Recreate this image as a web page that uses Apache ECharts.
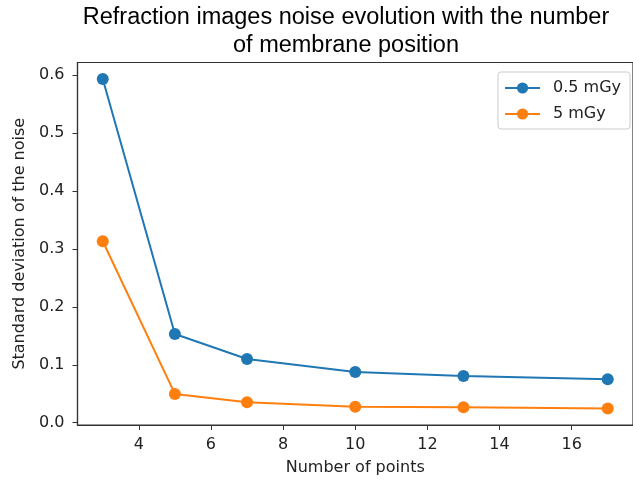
<!DOCTYPE html>
<html>
<head>
<meta charset="utf-8">
<script src="https://cdn.jsdelivr.net/npm/echarts@6/dist/echarts.min.js"></script>
<style>html,body{margin:0;padding:0;background:#fff}#c{width:633px;height:481px}</style>
</head>
<body>
<div id="c"></div>
<script>
const numPoints = [3, 5, 7, 10, 13, 17];
const noise05mGy = [0.593, 0.153, 0.110, 0.0875, 0.0806, 0.075];
const noise5mGy = [0.313, 0.0497, 0.0355, 0.0274, 0.0269, 0.0245];
const xTicks = [4, 6, 8, 10, 12, 14, 16];
const yTicks = [0.0, 0.1, 0.2, 0.3, 0.4, 0.5, 0.6];
const seriesNames = ['0.5 mGy', '5 mGy'];
const titleLines = ['Refraction images noise evolution with the number', 'of membrane position'];

const F = 'DejaVu Sans';
const FS = 16;
const chart = echarts.init(document.getElementById('c'), null, {renderer: 'canvas'});
const mk = (name, vals, color) => ({
  name, type: 'line', data: numPoints.map((x, i) => [x, vals[i]]),
  symbol: 'circle', symbolSize: 12, showSymbol: true,
  lineStyle: {color, width: 2}, itemStyle: {color, borderWidth: 0},
  emphasis: {disabled: true}, animation: false
});
chart.setOption({
  animation: false,
  title: {
    text: titleLines.join('\n'), left: 346, top: 4, textAlign: 'center',
    padding: 0,
    textStyle: {fontFamily: 'Liberation Sans', fontSize: 23.5, fontWeight: 'normal', color: '#000', lineHeight: 28}
  },
  legend: {
    data: seriesNames, orient: 'vertical', right: 3, top: 72,
    itemWidth: 35, itemHeight: 14, itemGap: 10,
    padding: [8, 9, 7, 6],
    borderColor: '#cccccc', borderWidth: 1, borderRadius: 3,
    textStyle: {fontFamily: F, fontSize: FS, color: '#222', padding: [0, 0, 0, 8]}
  },
  grid: {left: 77.5, top: 62.5, right: -7, bottom: 53.5, show: true, borderColor: '#333', borderWidth: 1.2, containLabel: false},
  xAxis: {
    type: 'value', min: 2.3, max: 17.7,
    name: 'Number of points', nameLocation: 'middle', nameGap: 35,
    nameTextStyle: {fontFamily: F, fontSize: FS, color: '#222'},
    axisLine: {show: true, onZero: false, lineStyle: {color: '#333', width: 1.2}},
    axisTick: {show: true, length: 5, customValues: xTicks, lineStyle: {color: '#333'}},
    axisLabel: {customValues: xTicks, fontFamily: F, fontSize: FS, color: '#222', margin: 12},
    splitLine: {show: false}
  },
  yAxis: {
    type: 'value', min: -0.0039, max: 0.6214,
    name: 'Standard deviation of the noise', nameLocation: 'middle', nameGap: 47,
    nameTextStyle: {fontFamily: F, fontSize: FS, color: '#222'},
    axisLine: {show: true, onZero: false, lineStyle: {color: '#333', width: 1.2}},
    axisTick: {show: true, length: 5, customValues: yTicks, lineStyle: {color: '#333'}},
    axisLabel: {customValues: yTicks, fontFamily: F, fontSize: FS, color: '#222', margin: 13, formatter: v => v.toFixed(1)},
    splitLine: {show: false}
  },
  series: [mk(seriesNames[0], noise05mGy, '#1f77b4'), mk(seriesNames[1], noise5mGy, '#ff7f0e')]
});
</script>
</body>
</html>
